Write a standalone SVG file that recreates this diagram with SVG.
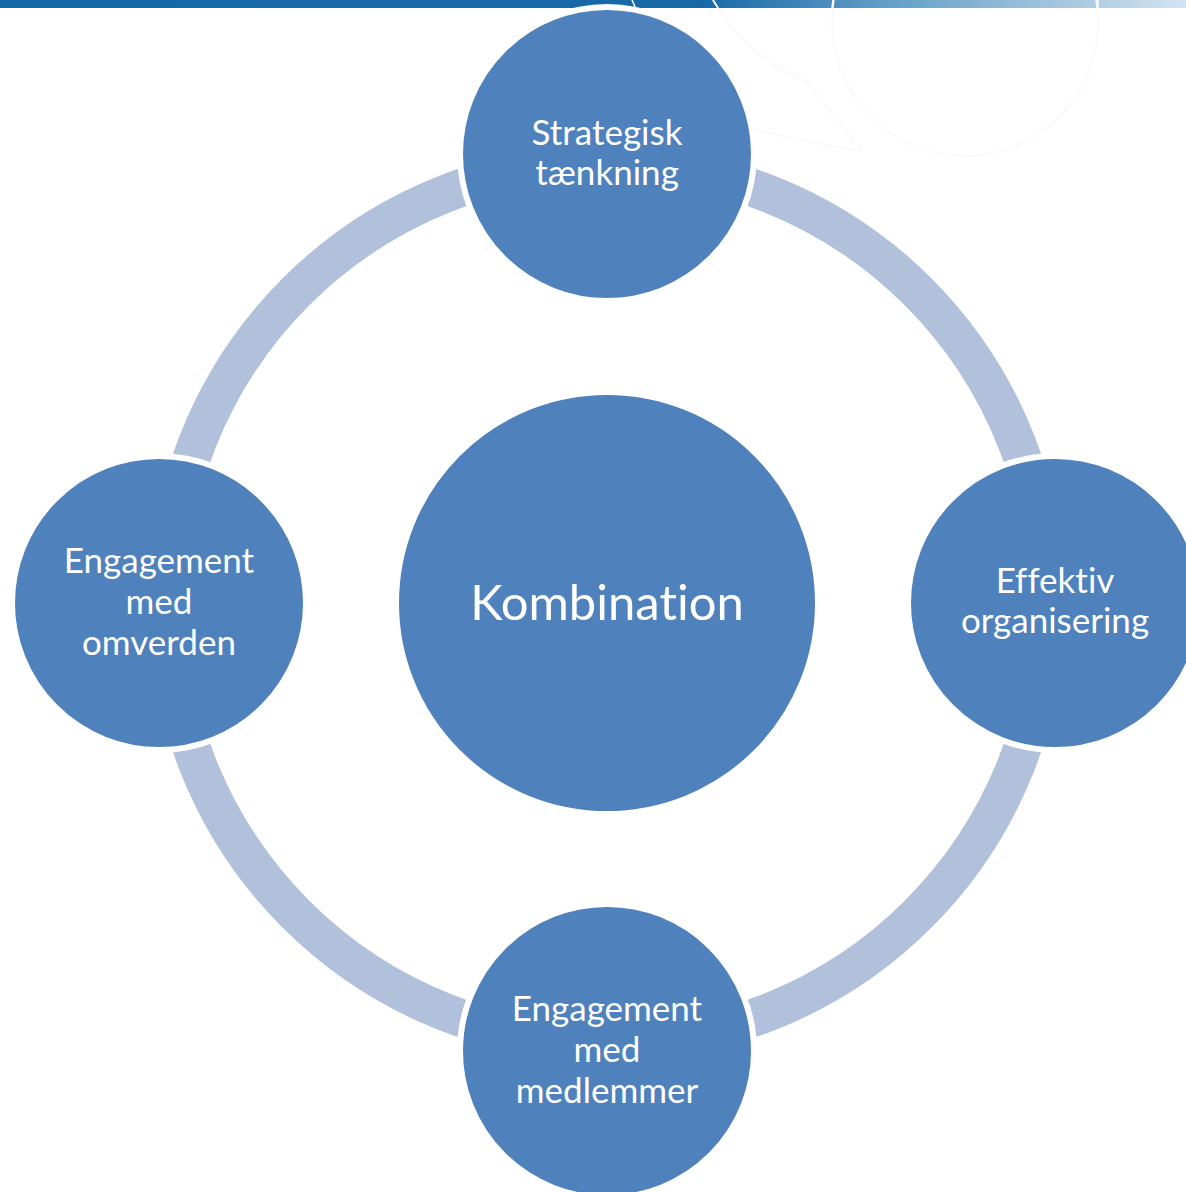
<svg xmlns="http://www.w3.org/2000/svg" width="1186" height="1192" viewBox="0 0 1186 1192">
  <defs>
    <linearGradient id="bar" x1="0" y1="0" x2="1186" y2="0" gradientUnits="userSpaceOnUse">
      <stop offset="0" stop-color="#1568A6"/>
      <stop offset="0.59" stop-color="#1769A6"/>
      <stop offset="0.75" stop-color="#639FC8"/>
      <stop offset="1" stop-color="#D3E3EF"/>
    </linearGradient>
  </defs>
  <style>
    .node { fill: #4F81BD; stroke: #FFFFFF; stroke-width: 6; }
    .ring { fill: none; stroke: #B2C1DB; stroke-width: 38; }
    .lbl { font-family: Lato, "Open Sans", sans-serif; font-size: 35px; fill: #FFFFFF; text-anchor: middle; font-variant-ligatures: none; font-feature-settings: "liga" 0, "clig" 0, "dlig" 0; }
    .big { font-size: 49px; }
    .deco { fill: none; stroke: #F7F8FA; stroke-width: 1.5; }
    .decow { fill: none; stroke: #FFFFFF; stroke-width: 1.5; }
  </style>
  <rect x="0" y="0" width="1186" height="1192" fill="#FFFFFF"/>
  <g id="background">
    <rect x="0" y="0" width="1186" height="8" fill="url(#bar)"/>
    <circle class="deco" cx="965" cy="23" r="133"/>
    <path class="deco" d="M713,0 Q750,60 807,82 L862,151 Q800,142 753,128"/>
    <path class="decow" d="M632,0 L636,9"/>
    <path class="decow" d="M713,0 L718,8"/>
    <path class="decow" d="M833,0 L832,8"/>
    <path class="decow" d="M1098,0 L1098,8"/>
  </g>
  <g id="connectors">
    <path class="ring" d="M607,163 A440,440 0 0 1 1047,603"/>
    <path class="ring" d="M1047,603 A440,440 0 0 1 607,1043"/>
    <path class="ring" d="M607,1043 A440,440 0 0 1 167,603"/>
    <path class="ring" d="M167,603 A440,440 0 0 1 607,163"/>
  </g>
  <g id="node-center">
    <circle class="node" cx="607" cy="603" r="211"/>
    <text class="lbl big" x="607" y="620">Kombination</text>
  </g>
  <g id="node-top">
    <circle class="node" cx="607" cy="154" r="147"/>
    <text class="lbl" x="607" y="145">Strategisk</text>
    <text class="lbl" x="607" y="185">tænkning</text>
  </g>
  <g id="node-right">
    <circle class="node" cx="1055" cy="603" r="147"/>
    <text class="lbl" x="1055" y="593">Effektiv</text>
    <text class="lbl" x="1055" y="633">organisering</text>
  </g>
  <g id="node-bottom">
    <circle class="node" cx="607" cy="1051" r="147"/>
    <text class="lbl" x="607" y="1021">Engagement</text>
    <text class="lbl" x="607" y="1062">med</text>
    <text class="lbl" x="607" y="1103">medlemmer</text>
  </g>
  <g id="node-left">
    <circle class="node" cx="159" cy="603" r="147"/>
    <text class="lbl" x="159" y="573">Engagement</text>
    <text class="lbl" x="159" y="614">med</text>
    <text class="lbl" x="159" y="655">omverden</text>
  </g>
</svg>
